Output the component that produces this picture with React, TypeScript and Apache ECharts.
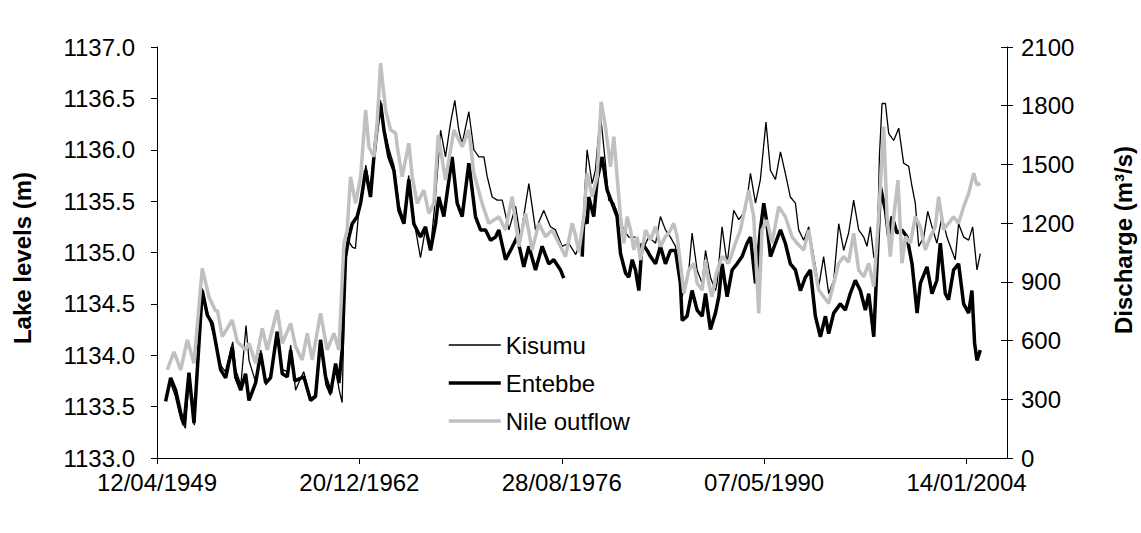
import React, { useEffect, useRef } from "react";
import * as echarts from "echarts";

// ---- data (decimal years, values) ----
const kisumuYears = [
  1949.9, 1950.2, 1950.5, 1950.9, 1951.2, 1951.45, 1951.8, 1952.34, 1952.7, 1953.0, 1953.3, 1953.6, 1953.9,
  1954.4, 1954.6, 1954.95, 1955.3, 1955.5, 1955.95, 1956.3, 1956.65, 1956.95, 1957.4, 1957.75, 1958.1, 1958.32,
  1958.65, 1958.8, 1959.2, 1959.65, 1960.0, 1960.34, 1960.7, 1961.0, 1961.36, 1961.6, 1961.8, 1962.0, 1962.2,
  1962.5, 1962.7, 1962.9, 1963.1, 1963.4, 1963.7, 1963.95, 1964.2, 1964.4, 1964.65, 1965.0, 1965.3, 1965.65,
  1966.0, 1966.3, 1966.65, 1967.1, 1967.45, 1967.8, 1968.1, 1968.46, 1968.79, 1969.13, 1969.42, 1969.69,
  1969.92, 1970.37, 1970.71, 1971.05, 1971.39, 1971.61, 1971.95, 1972.29, 1972.63, 1973.08, 1973.53, 1973.86,
  1974.43, 1974.88, 1975.44, 1975.89, 1976.23, 1976.68, 1977.13, 1977.6, 1978.04, 1978.37, 1978.71, 1978.93,
  1979.27, 1979.61, 1979.83, 1980.18, 1980.51, 1980.85, 1981.19, 1981.64, 1982.09, 1982.54, 1983.0, 1983.33,
  1983.67, 1984.01, 1984.35, 1984.8, 1985.25, 1985.47, 1985.81, 1986.15, 1986.38, 1986.71, 1987.05, 1987.16,
  1987.5, 1987.84, 1988.29, 1988.63, 1989.08, 1989.42, 1989.76, 1990.09, 1990.47, 1990.77, 1991.11, 1991.45,
  1991.78, 1992.12, 1992.46, 1992.68, 1993.02, 1993.36, 1993.7, 1994.04, 1994.37, 1994.71, 1995.05, 1995.39,
  1995.73, 1996.06, 1996.4, 1996.74, 1997.08, 1997.3, 1997.53, 1997.76, 1997.98, 1998.14, 1998.32, 1998.55,
  1998.77, 1999.11, 1999.45, 1999.78, 2000.12, 2000.35, 2000.57, 2000.8, 2001.14, 2001.41, 2001.7, 2002.03,
  2002.37, 2002.71, 2003.04, 2003.27, 2003.5, 2003.84, 2004.18, 2004.45, 2004.74, 2004.97,
];
const kisumuLevels = [
  1133.61, 1133.73, 1133.61, 1133.37, 1133.29, 1133.76, 1133.32, 1134.65, 1134.42, 1134.25, 1134.1, 1133.9, 1133.84,
  1134.13, 1133.86, 1133.71, 1134.29, 1133.95, 1133.74, 1134.05, 1133.71, 1133.81, 1134.2, 1133.86, 1133.84, 1134.1,
  1133.66, 1133.71, 1133.84, 1133.58, 1133.61, 1134.1, 1133.71, 1133.61, 1133.88, 1133.66, 1133.54, 1134.83, 1135.12,
  1135.05, 1135.04, 1135.36, 1135.53, 1135.85, 1135.61, 1135.99, 1136.24, 1136.48, 1136.21, 1135.99, 1135.85, 1135.46,
  1135.3, 1135.75, 1135.32, 1134.95, 1135.24, 1135.07, 1135.51, 1136.19, 1135.93, 1136.26, 1136.48, 1136.19,
  1136.06, 1136.37, 1136.0, 1135.93, 1135.93, 1135.74, 1135.54, 1135.51, 1135.51, 1135.22, 1135.45, 1135.15,
  1135.67, 1135.22, 1135.41, 1135.25, 1135.22, 1135.06, 1135.09, 1134.98, 1135.15, 1136.0, 1135.67, 1135.8,
  1136.35, 1135.87, 1135.51, 1135.48, 1135.35, 1135.22, 1135.15, 1135.15, 1135.02, 1135.15, 1135.09, 1135.35,
  1135.22, 1135.15, 1135.06, 1134.57, 1134.83, 1135.19, 1134.83, 1134.7, 1135.02, 1134.76, 1134.63, 1134.7,
  1135.25, 1134.89, 1135.41, 1135.32, 1135.41, 1135.77, 1135.48, 1135.71, 1136.27, 1135.8, 1135.71, 1135.98,
  1135.77, 1135.54, 1135.48, 1135.22, 1135.12, 1135.25, 1134.96, 1134.67, 1134.96, 1134.6, 1134.73, 1135.28,
  1135.02, 1135.19, 1135.51, 1135.22, 1135.15, 1135.06, 1135.25, 1134.96, 1134.89, 1135.93, 1136.45, 1136.45,
  1136.16, 1136.09, 1136.21, 1135.87, 1135.84, 1135.64, 1135.48, 1135.06, 1135.15, 1135.4, 1135.25, 1135.09,
  1135.35, 1135.15, 1135.02, 1134.93, 1135.28, 1135.15, 1135.12, 1135.25, 1134.83, 1134.99,
];

const entebbeYears = [
  1949.86, 1950.2, 1950.54, 1950.88, 1951.1, 1951.44, 1951.78, 1952.34, 1952.68, 1953.01, 1953.25, 1953.58, 1953.92,
  1954.37, 1954.6, 1954.94, 1955.27, 1955.5, 1955.95, 1956.29, 1956.63, 1956.96, 1957.41, 1957.75, 1958.09, 1958.32,
  1958.6, 1959.21, 1959.67, 1960.0, 1960.34, 1960.68, 1961.02, 1961.36, 1961.58, 1961.8, 1962.03, 1962.26, 1962.48,
  1962.82, 1963.05, 1963.39, 1963.72, 1963.95, 1964.17, 1964.4, 1964.63, 1964.96, 1965.3, 1965.64, 1965.98, 1966.31,
  1966.65, 1967.1, 1967.44, 1967.78, 1968.12, 1968.34, 1968.68, 1969.24, 1969.58, 1969.92, 1970.37, 1970.82,
  1971.16, 1971.5, 1971.84, 1972.18, 1972.4, 1972.85, 1973.19, 1973.64, 1974.09, 1974.43, 1974.88, 1975.33,
  1975.78, 1976.12, 1976.57, 1976.79, 1977.4, 1978.04, 1978.15, 1978.37, 1978.48, 1978.82, 1979.05, 1979.39,
  1979.72, 1980.06, 1980.4, 1980.63, 1980.97, 1981.19, 1981.42, 1981.64, 1981.87, 1982.09, 1982.43, 1982.66,
  1983.0, 1983.33, 1983.67, 1984.01, 1984.35, 1984.68, 1984.8, 1985.13, 1985.47, 1985.81, 1986.15, 1986.38,
  1986.71, 1987.05, 1987.28, 1987.5, 1987.84, 1988.18, 1988.51, 1988.85, 1989.19, 1989.42, 1989.76, 1990.09,
  1990.32, 1990.54, 1990.77, 1991.11, 1991.45, 1991.78, 1992.12, 1992.46, 1992.8, 1993.14, 1993.47, 1993.81,
  1994.15, 1994.49, 1994.71, 1995.05, 1995.5, 1995.84, 1996.17, 1996.51, 1996.85, 1997.19, 1997.42, 1997.76,
  1997.98, 1998.21, 1998.55, 1998.77, 1999.0, 1999.33, 1999.67, 2000.01, 2000.35, 2000.69, 2000.91, 2001.36,
  2001.7, 2002.03, 2002.26, 2002.6, 2002.82, 2003.16, 2003.5, 2003.84, 2004.18, 2004.4, 2004.58, 2004.74, 2004.97,
];
const entebbeLevels: (number | null)[] = [
  1133.55, 1133.78, 1133.66, 1133.44, 1133.32, 1133.83, 1133.34, 1134.63, 1134.39, 1134.31, 1134.12, 1133.86, 1133.78,
  1134.08, 1133.79, 1133.66, 1133.82, 1133.56, 1133.73, 1134.02, 1133.73, 1133.78, 1134.23, 1133.82, 1133.79, 1134.05,
  1133.75, 1133.79, 1133.56, 1133.6, 1134.15, 1133.79, 1133.63, 1133.92, 1133.73, 1134.05, 1134.96, 1135.15, 1135.28,
  1135.35, 1135.48, 1135.8, 1135.54, 1135.93, 1136.22, 1136.45, 1136.19, 1135.93, 1135.8, 1135.41, 1135.28, 1135.71,
  1135.28, 1135.15, 1135.25, 1135.02, 1135.28, 1135.54, 1135.35, 1135.93, 1135.48, 1135.35, 1135.87, 1135.35,
  1135.22, 1135.22, 1135.12, 1135.15, 1135.22, 1134.93, 1135.02, 1135.15, 1134.86, 1135.06, 1134.83, 1135.06,
  1134.89, 1134.93, 1134.83, 1134.75, null, 1134.96, 1135.35, 1135.28, 1135.54, 1135.35, 1135.71, 1135.93,
  1135.61, 1135.48, 1135.35, 1134.99, 1134.8, 1134.76, 1134.93, 1134.83, 1134.63, 1135.09, 1135.02, 1134.96,
  1134.89, 1135.06, 1134.89, 1135.02, 1135.02, 1134.7, 1134.34, 1134.38, 1134.63, 1134.44, 1134.38, 1134.6,
  1134.25, 1134.41, 1134.57, 1134.89, 1134.57, 1134.83, 1134.89, 1134.96, 1135.09, 1135.15, 1134.7, 1135.22,
  1135.48, 1135.28, 1134.96, 1135.09, 1135.22, 1135.09, 1134.89, 1134.83, 1134.63, 1134.76, 1134.83, 1134.38,
  1134.18, 1134.38, 1134.21, 1134.41, 1134.5, 1134.44, 1134.6, 1134.73, 1134.63, 1134.44, 1134.6, 1134.18,
  1134.89, 1135.64, 1135.41, 1135.15, 1135.35, 1135.19, 1135.22, 1135.15, 1134.89, 1134.41, 1134.7, 1134.86,
  1134.6, 1134.73, 1135.09, 1134.6, 1134.54, 1134.83, 1134.89, 1134.5, 1134.41, 1134.63, 1134.12, 1133.95, 1134.05,
];

const nileYears = [
  1949.97, 1950.43, 1950.88, 1951.33, 1951.78, 1952.34, 1952.79, 1953.25, 1953.36, 1953.69, 1954.37, 1954.71, 1955.27,
  1955.5, 1955.95, 1956.4, 1956.73, 1957.41, 1957.75, 1958.32, 1958.65, 1959.1, 1959.44, 1959.78, 1960.34, 1960.79,
  1961.24, 1961.58, 1961.92, 1962.14, 1962.37, 1962.71, 1963.05, 1963.39, 1963.61, 1963.95, 1964.17, 1964.4, 1964.74,
  1965.08, 1965.42, 1965.53, 1965.86, 1966.31, 1966.54, 1966.88, 1967.33, 1967.67, 1968.01, 1968.3, 1968.79, 1969.36,
  1969.92, 1970.37, 1970.71, 1971.27, 1971.72, 1972.4, 1972.85, 1973.3, 1973.75, 1974.2, 1974.65, 1975.1, 1975.55,
  1976.0, 1976.46, 1976.91, 1977.36, 1977.58, 1977.81, 1978.15, 1978.37, 1978.71, 1979.05, 1979.32, 1979.61, 1979.95,
  1980.18, 1980.4, 1980.63, 1980.85, 1981.08, 1981.31, 1981.53, 1981.75, 1981.98, 1982.32, 1982.66, 1983.0, 1983.33,
  1983.67, 1983.9, 1984.23, 1984.46, 1984.68, 1984.91, 1985.25, 1985.59, 1985.81, 1986.15, 1986.38, 1986.6, 1986.82,
  1987.1, 1987.5, 1987.95, 1988.4, 1988.74, 1989.3, 1989.64, 1989.98, 1990.2, 1990.54, 1990.88, 1991.33, 1991.78,
  1992.23, 1992.57, 1993.02, 1993.36, 1993.7, 1994.04, 1994.37, 1994.71, 1995.05, 1995.39, 1995.73, 1996.06, 1996.4,
  1996.74, 1997.08, 1997.42, 1997.76, 1998.09, 1998.43, 1998.66, 1998.88, 1999.11, 1999.4, 1999.67, 1999.9, 2000.24,
  2000.57, 2000.91, 2001.25, 2001.59, 2001.92, 2002.15, 2002.49, 2002.82, 2003.16, 2003.5, 2003.84, 2004.18, 2004.52,
  2004.74, 2004.97,
];
const nileFlows = [
  450, 542, 450, 603, 484, 969, 824, 748, 756, 620, 705, 594, 552,
  586, 484, 663, 552, 756, 586, 688, 569, 501, 637, 501, 739, 552,
  637, 552, 1097, 1165, 1437, 1301, 1437, 1778, 1590, 1539, 1710, 2017, 1778,
  1676, 1659, 1590, 1437, 1608, 1437, 1301, 1369, 1250, 1301, 1650, 1420, 1676,
  1590, 1676, 1455, 1301, 1199, 1233, 1165, 1335, 1080, 1250, 1063, 1199, 1131,
  1165, 1097, 1029, 1199, 1140, 1050, 1233, 1455, 1335, 1437, 1820, 1693, 1488,
  1642, 1437, 1233, 1097, 1233, 1165, 1063, 1131, 1012, 1165, 1114, 1182, 1080,
  1131, 1148, 1199, 1131, 995, 841, 960, 995, 893, 858, 1012, 893, 824,
  940, 1029, 995, 1097, 1165, 1369, 1233, 739, 1165, 1216, 1097, 1284, 1233,
  1131, 1097, 1063, 1165, 995, 858, 824, 790, 893, 995, 1029, 1000, 1148,
  960, 926, 995, 875, 1233, 1693, 1233, 1029, 1233, 1420, 995, 1131, 1097,
  1233, 1182, 1063, 1131, 1182, 1335, 1165, 1199, 1233, 1199, 1284, 1352, 1455,
  1395, 1403,
];

const xTickDays = [0, 5000, 10000, 15000, 20000];
const legendNames = ["Kisumu", "Entebbe", "Nile outflow"];

// ---- helpers ----
const ORIGIN = Date.UTC(1949, 3, 12);
const DAY = 86400000;
function yearToDays(y: number): number {
  const yr = Math.floor(y);
  const start = Date.UTC(yr, 0, 1);
  const end = Date.UTC(yr + 1, 0, 1);
  return (start + (y - yr) * (end - start) - ORIGIN) / DAY;
}
function fmtDate(days: number): string {
  const d = new Date(ORIGIN + Math.round(days) * DAY);
  const dd = String(d.getUTCDate()).padStart(2, "0");
  const mm = String(d.getUTCMonth() + 1).padStart(2, "0");
  return `${dd}/${mm}/${d.getUTCFullYear()}`;
}
const pairs = (xs: number[], ys: (number | null)[]) =>
  xs.map((x, i) => [yearToDays(x), ys[i] === null ? "-" : ys[i]]);

const FONT = "Liberation Sans, Arial, sans-serif";
const FS = 24;
const THIN = 1.3;
const THICK = 3.5;

export default function App() {
  const ref = useRef<HTMLDivElement>(null);
  useEffect(() => {
    if (!ref.current) return;
    const chart = echarts.init(ref.current, undefined, { renderer: "svg" });
    const axisLine = { show: true, lineStyle: { color: "#000", width: 1 } };
    const label = { color: "#000", fontSize: FS, fontFamily: FONT };
    const titleStyle = {
      fill: "#000",
      fontSize: FS,
      fontWeight: "bold",
      fontFamily: FONT,
      align: "center",
      verticalAlign: "middle",
    };
    const widths = [THIN, THICK, THICK];
    chart.setOption({
      animation: false,
      backgroundColor: "#fff",
      grid: { left: 157, right: 134, top: 47, bottom: 75, containLabel: false },
      graphic: [
        {
          type: "text",
          x: 22,
          y: 258,
          rotation: Math.PI / 2,
          style: { ...titleStyle, text: "Lake levels (m)" },
        },
        {
          type: "text",
          x: 1123,
          y: 240,
          rotation: Math.PI / 2,
          style: { ...titleStyle, text: "Discharge (m³/s)" },
        },
      ],
      legend: {
        data: legendNames.map((n, i) => ({ name: n, lineStyle: { width: widths[i] } })),
        orient: "vertical",
        left: 442,
        top: 328,
        itemWidth: 52,
        itemHeight: 14,
        itemGap: 14,
        itemStyle: { opacity: 0 },
        textStyle: { color: "#000", fontSize: FS, fontFamily: FONT },
      },
      xAxis: {
        type: "value",
        min: 0,
        max: 21000,
        interval: 5000,
        axisLine,
        axisTick: { show: true, length: 6, lineStyle: { color: "#000" }, customValues: xTickDays },
        axisLabel: { ...label, margin: 12, formatter: (v: number) => fmtDate(v), customValues: xTickDays },
        splitLine: { show: false },
      },
      yAxis: [
        {
          type: "value",
          position: "left",
          min: 1133,
          max: 1137,
          interval: 0.5,
          axisLine,
          axisTick: { show: true, length: 6, lineStyle: { color: "#000" } },
          axisLabel: { ...label, margin: 22, formatter: (v: number) => v.toFixed(1) },
          splitLine: { show: false },
        },
        {
          type: "value",
          position: "right",
          min: 0,
          max: 2100,
          interval: 300,
          axisLine,
          axisTick: { show: true, length: 6, lineStyle: { color: "#000" } },
          axisLabel: { ...label, margin: 14, formatter: (v: number) => String(v) },
          splitLine: { show: false },
        },
        {
          type: "value",
          position: "right",
          min: 0,
          max: 2100,
          interval: 300,
          axisLine: { show: false },
          axisTick: { show: true, inside: true, length: 6, lineStyle: { color: "#000" } },
          axisLabel: { show: false },
          splitLine: { show: false },
        },
      ],
      series: [
        {
          name: legendNames[0],
          type: "line",
          yAxisIndex: 0,
          data: pairs(kisumuYears, kisumuLevels),
          symbol: "none",
          lineStyle: { color: "#000", width: THIN },
          itemStyle: { color: "#000" },
        },
        {
          name: legendNames[1],
          type: "line",
          yAxisIndex: 0,
          data: pairs(entebbeYears, entebbeLevels),
          symbol: "none",
          lineStyle: { color: "#000", width: THICK },
          itemStyle: { color: "#000" },
        },
        {
          name: legendNames[2],
          type: "line",
          yAxisIndex: 1,
          data: pairs(nileYears, nileFlows),
          symbol: "none",
          lineStyle: { color: "#c0c0c0", width: THICK },
          itemStyle: { color: "#c0c0c0" },
        },
      ],
    });
    return () => chart.dispose();
  }, []);
  return (
    <div
      ref={ref}
      style={{ position: "absolute", left: 0, top: 0, width: 1141, height: 533, background: "#fff" }}
    />
  );
}
